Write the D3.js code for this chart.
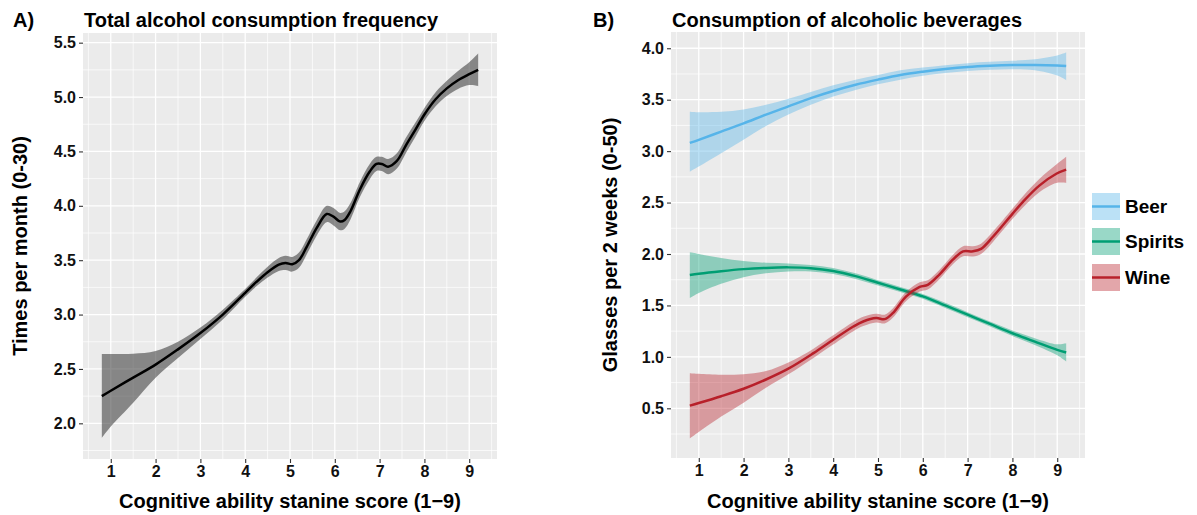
<!DOCTYPE html>
<html><head><meta charset="utf-8">
<script src="https://cdn.jsdelivr.net/npm/d3@7"></script>
<style>body{margin:0;background:#fff}svg{display:block;font-family:"Liberation Sans",Arial,Helvetica,sans-serif;font-weight:bold}</style>
</head><body><svg id="c" width="1197" height="515"></svg>
<script>
// ---------- data ----------
const xTicks = [1,2,3,4,5,6,7,8,9];
const yTicksA = [2.0,2.5,3.0,3.5,4.0,4.5,5.0,5.5];
const yTicksB = [0.5,1.0,1.5,2.0,2.5,3.0,3.5,4.0];

const xA  = [0.8,1.0,1.5,2.0,2.5,3.0,3.5,4.0,4.25,4.5,4.75,4.9,5.05,5.2,5.37,5.6,5.82,5.97,6.12,6.22,6.35,6.56,6.78,6.93,7.05,7.19,7.38,7.6,7.8,8.0,8.25,8.5,8.75,9.0,9.2];
const fitA= [2.25,2.30,2.42,2.54,2.68,2.83,3.00,3.20,3.30,3.39,3.46,3.475,3.462,3.50,3.62,3.80,3.925,3.90,3.855,3.87,3.95,4.15,4.315,4.385,4.385,4.36,4.41,4.565,4.70,4.84,4.98,5.08,5.155,5.21,5.25];
const hiA = [2.637,2.638,2.64,2.665,2.75,2.88,3.045,3.235,3.34,3.44,3.52,3.54,3.53,3.57,3.69,3.87,4.00,3.98,3.935,3.95,4.025,4.22,4.385,4.45,4.45,4.43,4.48,4.635,4.765,4.90,5.045,5.15,5.24,5.32,5.40];
const loA = [1.865,1.97,2.19,2.42,2.60,2.775,2.955,3.165,3.26,3.34,3.40,3.41,3.395,3.43,3.55,3.73,3.85,3.82,3.775,3.79,3.875,4.08,4.245,4.32,4.32,4.29,4.34,4.495,4.635,4.78,4.915,5.01,5.075,5.11,5.10];

const xB = [0.8,1.0,1.5,2.0,2.5,3.0,3.5,4.0,4.5,5.0,5.5,6.0,6.5,7.0,7.5,8.0,8.5,9.0,9.2];
const fitBeer = [3.08,3.11,3.19,3.27,3.355,3.435,3.515,3.585,3.645,3.695,3.74,3.772,3.798,3.818,3.83,3.837,3.838,3.833,3.828];
const hiBeer  = [3.383,3.378,3.382,3.405,3.45,3.51,3.575,3.64,3.695,3.74,3.785,3.812,3.836,3.855,3.868,3.878,3.893,3.93,3.958];
const loBeer  = [2.80,2.85,2.98,3.11,3.245,3.355,3.45,3.53,3.595,3.65,3.695,3.732,3.76,3.78,3.792,3.796,3.786,3.735,3.69];

const fitSpirits = [1.795,1.808,1.833,1.853,1.865,1.87,1.862,1.835,1.785,1.72,1.655,1.588,1.50,1.41,1.32,1.23,1.148,1.068,1.042];
const hiSpirits  = [2.016,2.00,1.962,1.932,1.915,1.908,1.893,1.864,1.812,1.745,1.68,1.612,1.525,1.435,1.345,1.257,1.182,1.122,1.133];
const loSpirits  = [1.571,1.62,1.71,1.775,1.812,1.83,1.83,1.806,1.758,1.695,1.63,1.564,1.475,1.385,1.295,1.203,1.115,1.015,0.955];

const xWine   = [0.8,1.0,1.5,2.0,2.5,3.0,3.56,4.0,4.45,4.67,4.96,5.15,5.33,5.63,5.93,6.11,6.37,6.67,6.9,7.12,7.3,7.57,8.0,8.24,8.6,8.98,9.2];
const fitWine = [0.526,0.551,0.617,0.69,0.78,0.885,1.036,1.166,1.295,1.344,1.377,1.367,1.425,1.588,1.68,1.70,1.80,1.945,2.026,2.026,2.05,2.17,2.39,2.51,2.665,2.78,2.82];
const hiWine  = [0.841,0.835,0.826,0.832,0.862,0.945,1.08,1.21,1.34,1.39,1.42,1.41,1.47,1.632,1.725,1.745,1.845,1.99,2.075,2.076,2.10,2.22,2.44,2.565,2.73,2.87,2.945];
const loWine  = [0.208,0.27,0.42,0.555,0.70,0.83,0.99,1.12,1.25,1.30,1.335,1.325,1.38,1.544,1.635,1.655,1.755,1.90,1.977,1.976,2.00,2.12,2.34,2.455,2.60,2.69,2.69];

const seriesNames = ["Beer","Spirits","Wine"];
const seriesColors = ["#56B4E9","#009E73","#B8202A"];

// ---------- drawing ----------
const svg = d3.select("#c");
const xDomain = [0.38, 9.62];
const curve = d3.curveCatmullRom.alpha(0.5);

function panel(opt){
  const g = svg.append("g");
  const x = d3.scaleLinear().domain(xDomain).range([opt.left, opt.right]);
  const y = d3.scaleLinear().domain(opt.yDomain).range([opt.bottom, opt.top]);
  g.append("rect").attr("x",opt.left).attr("y",opt.top).attr("width",opt.right-opt.left).attr("height",opt.bottom-opt.top).attr("fill","#EBEBEB");
  const xMinor = d3.range(0.5, 9.6, 1);
  g.selectAll(null).data(xMinor).join("line").attr("x1",d=>x(d)).attr("x2",d=>x(d)).attr("y1",opt.top).attr("y2",opt.bottom).attr("stroke","#fff").attr("stroke-width",0.7);
  g.selectAll(null).data(opt.yMinor).join("line").attr("y1",d=>y(d)).attr("y2",d=>y(d)).attr("x1",opt.left).attr("x2",opt.right).attr("stroke","#fff").attr("stroke-width",0.7);
  g.selectAll(null).data(xTicks).join("line").attr("x1",d=>x(d)).attr("x2",d=>x(d)).attr("y1",opt.top).attr("y2",opt.bottom).attr("stroke","#fff").attr("stroke-width",1.3);
  g.selectAll(null).data(opt.yTicks).join("line").attr("y1",d=>y(d)).attr("y2",d=>y(d)).attr("x1",opt.left).attr("x2",opt.right).attr("stroke","#fff").attr("stroke-width",1.3);

  const ax = g.append("g").attr("transform",`translate(0,${opt.bottom})`)
    .call(d3.axisBottom(x).tickValues(xTicks).tickSize(4).tickPadding(3).tickFormat(d3.format("d")));
  const ay = g.append("g").attr("transform",`translate(${opt.left},0)`)
    .call(d3.axisLeft(y).tickValues(opt.yTicks).tickSize(4).tickPadding(3).tickFormat(d3.format(".1f")));
  [ax,ay].forEach(a=>{
    a.select(".domain").remove();
    a.selectAll(".tick line").attr("stroke","#333").attr("stroke-width",1.1);
    a.selectAll(".tick text").attr("fill","#111").style("font-size","16px").style("font-weight","bold").style("font-family","'Liberation Sans',Arial,sans-serif");
  });

  opt.series.forEach(s=>{
    const pts = s.xs.map((v,i)=>({x:v,f:s.fit[i],h:s.hi[i],l:s.lo[i]}));
    g.append("path").datum(pts)
      .attr("d", d3.area().curve(curve).x(d=>x(d.x)).y0(d=>y(d.l)).y1(d=>y(d.h)))
      .attr("fill", s.fill).attr("fill-opacity", s.fillOpacity);
    g.append("path").datum(pts)
      .attr("d", d3.line().curve(curve).x(d=>x(d.x)).y(d=>y(d.f)))
      .attr("fill","none").attr("stroke", s.color).attr("stroke-width",2.5);
  });

  svg.append("text").attr("x",opt.tagX).attr("y",27).attr("font-size",20).attr("fill","#000").text(opt.tag);
  svg.append("text").attr("x",opt.left+1).attr("y",27).attr("font-size",20).attr("fill","#000").text(opt.title);
  svg.append("text").attr("x",(opt.left+opt.right)/2).attr("y",508).attr("text-anchor","middle").attr("font-size",20).attr("fill","#000").text("Cognitive ability stanine score (1\u22129)");
  svg.append("text").attr("transform",`translate(${opt.yTitleX},${(opt.top+opt.bottom)/2}) rotate(-90)`).attr("text-anchor","middle").attr("font-size",20).attr("fill","#000").text(opt.yTitle);
}

panel({left:83,right:497,top:33,bottom:459,yDomain:[1.672,5.589],yTicks:yTicksA,
  yMinor:[1.75,2.25,2.75,3.25,3.75,4.25,4.75,5.25],
  tag:"A)",tagX:13,title:"Total alcohol consumption frequency",yTitle:"Times per month (0-30)",yTitleX:27,
  series:[{xs:xA,fit:fitA,hi:hiA,lo:loA,color:"#000",fill:"#333",fillOpacity:0.55}]});

panel({left:671,right:1085,top:32,bottom:458,yDomain:[0.017,4.158],yTicks:yTicksB,
  yMinor:[0.25,0.75,1.25,1.75,2.25,2.75,3.25,3.75],
  tag:"B)",tagX:593,title:"Consumption of alcoholic beverages",yTitle:"Glasses per 2 weeks (0-50)",yTitleX:617,
  series:[
    {xs:xB,fit:fitBeer,hi:hiBeer,lo:loBeer,color:seriesColors[0],fill:seriesColors[0],fillOpacity:0.4},
    {xs:xB,fit:fitSpirits,hi:hiSpirits,lo:loSpirits,color:seriesColors[1],fill:seriesColors[1],fillOpacity:0.4},
    {xs:xWine,fit:fitWine,hi:hiWine,lo:loWine,color:seriesColors[2],fill:seriesColors[2],fillOpacity:0.4}
  ]});

const keyY = [193,228,264];
const lg = svg.append("g");
seriesNames.forEach((n,i)=>{
  lg.append("rect").attr("x",1092).attr("y",keyY[i]).attr("width",28).attr("height",27).attr("fill",seriesColors[i]).attr("fill-opacity",0.4);
  lg.append("line").attr("x1",1092).attr("x2",1120).attr("y1",keyY[i]+13.5).attr("y2",keyY[i]+13.5).attr("stroke",seriesColors[i]).attr("stroke-width",2.5);
  lg.append("text").attr("x",1125).attr("y",keyY[i]+13.5).attr("dy","0.35em").attr("font-size",19).attr("fill","#000").text(n);
});
</script></body></html>
